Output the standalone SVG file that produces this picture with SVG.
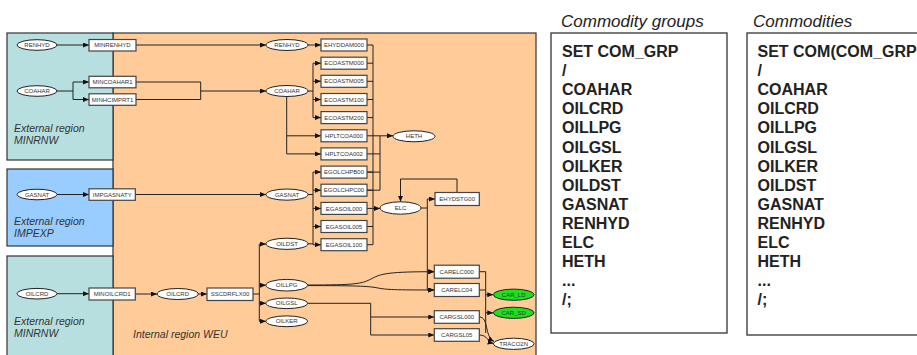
<svg xmlns="http://www.w3.org/2000/svg" width="917" height="355" viewBox="0 0 917 355">
<style>
.box{fill:#fff;stroke:#444;stroke-width:1.2}
.ell{fill:#fff;stroke:#222;stroke-width:1}
.grn{fill:#1fdf1f;stroke:#222;stroke-width:1}
.t{font-family:"Liberation Sans",Arial,sans-serif;font-size:6px;fill:#333;text-anchor:middle}
.reg{font-family:"Liberation Sans",Arial,sans-serif;font-size:10.5px;font-style:italic;fill:#333}
.hd{font-family:"Liberation Sans",Arial,sans-serif;font-size:17px;font-style:italic;fill:#222}
.ls{font-family:"Liberation Sans",Arial,sans-serif;font-size:16px;font-weight:bold;fill:#222}
.c{fill:none;stroke:#222;stroke-width:1}
.a{marker-end:url(#ah)}
</style>
<defs>
<marker id="ah" markerUnits="userSpaceOnUse" markerWidth="6" markerHeight="5" refX="6" refY="2.5" orient="auto"><path d="M0,0 L6,2.5 L0,5 z" fill="#111"/></marker>
</defs>
<rect width="917" height="355" fill="#fff"/>
<g id="regions">
<rect x="113" y="33" width="423" height="330" fill="#ffcc99" stroke="#333" stroke-width="1.2"/>
<rect x="7" y="33" width="106" height="127" fill="#b8dfe0" stroke="#333" stroke-width="1.2"/>
<rect x="7" y="169" width="106" height="77" fill="#99ccff" stroke="#333" stroke-width="1.2"/>
<rect x="7" y="256" width="106" height="107" fill="#b8dfe0" stroke="#333" stroke-width="1.2"/>
<text class="reg" x="14" y="131.5">External region</text>
<text class="reg" x="14" y="143.5">MINRNW</text>
<text class="reg" x="14" y="224.5">External region</text>
<text class="reg" x="14" y="236.5">IMPEXP</text>
<text class="reg" x="14" y="324.5">External region</text>
<text class="reg" x="14" y="336.5">MINRNW</text>
<text class="reg" x="133" y="337.5">Internal region WEU</text>
</g>
<g id="connectors">
<path class="c a" d="M57,45 H89"/>
<path class="c" d="M57,91 H73 M73,82 V99.5"/>
<path class="c a" d="M73,82 H89"/>
<path class="c a" d="M73,99.5 H89"/>
<path class="c a" d="M57,194.5 H89"/>
<path class="c a" d="M57,293.7 H89"/>
<path class="c a" d="M136,45 H266"/>
<path class="c" d="M136,82 H200.7 V99.5 H136"/>
<path class="c a" d="M200.7,91 H266"/>
<path class="c a" d="M135.3,194.5 H266"/>
<path class="c a" d="M135.3,294 H157"/>
<path class="c a" d="M198.3,294 H207"/>
<path class="c" d="M253,294 H259.3 M259.3,244 V321.3"/>
<path class="c a" d="M259.3,244 H266"/>
<path class="c a" d="M259.3,285.2 H266"/>
<path class="c a" d="M259.3,303.3 H266"/>
<path class="c a" d="M259.3,321.3 H266"/>
<path class="c a" d="M308,45 H321"/>
<path class="c" d="M308,91 H313 M313,63.2 V117.6"/>
<path class="c a" d="M313,63.2 H321"/>
<path class="c a" d="M313,81.3 H321"/>
<path class="c a" d="M313,99.5 H321"/>
<path class="c a" d="M313,117.6 H321"/>
<path class="c" d="M286.7,96.5 V153.9"/>
<path class="c a" d="M286.7,135.8 H321"/>
<path class="c a" d="M286.7,153.9 H321"/>
<path class="c" d="M307.7,194.5 H313 M313,172.1 V244.7 M307.7,243.8 H313"/>
<path class="c a" d="M313,172.1 H321"/>
<path class="c a" d="M313,190.2 H321"/>
<path class="c a" d="M313,208.4 H321"/>
<path class="c a" d="M313,226.5 H321"/>
<path class="c a" d="M313,244.7 H321"/>
<path class="c" d="M367,45 H373 M367,63.2 H373 M367,81.3 H373 M367,99.5 H373 M367,117.6 H373 M367,172.1 H373 M367,190.2 H373 M367,208.4 H373 M367,226.5 H373 M367,244.7 H373 M373,45 V244.7"/>
<path class="c a" d="M373,208.4 H380"/>
<path class="c" d="M367,153.9 H380 M367,172.1 H380 M367,190.2 H380 M380,135.8 V190.2" stroke-width="1.3"/>
<path class="c a" d="M367,135.8 H393"/>
<path class="c" d="M421,208 H427.3 M427.3,199 V290"/>
<path class="c a" d="M427.3,199 H435"/>
<path class="c a" d="M427.3,271.7 H434.3"/>
<path class="c a" d="M427.3,290 H434.3"/>
<path class="c a" d="M457,192.3 V179 H400.5 V201.8"/>
<path class="c a" d="M307.5,285 C355,285 362,284 372,278.5 C381,273.5 390,271.7 434.3,271.7"/>
<path class="c a" d="M307.5,285.6 C355,285.6 368,286 378,288 C386,289.6 395,290 434.3,290"/>
<path class="c" d="M307.3,303.3 H370.7 V335"/>
<path class="c a" d="M370.7,317 H434.3"/>
<path class="c a" d="M370.7,335 H434.3"/>
<path class="c" d="M479.3,271.7 H485.7 V333 M479.3,290 H485.7"/>
<path class="c a" d="M485.7,294.7 H493.3"/>
<path class="c a" d="M485.7,312.8 H493.3"/>
<path class="c a" d="M479.3,317 C489,317 484,336 494,341.5"/>
<path class="c a" d="M479.3,335 C488,335 487,342 493.6,343.5"/>
</g>
<g id="n-renhyd-ext"><ellipse class="ell" cx="37" cy="45" rx="20" ry="5.3"/><text class="t" x="37" y="47.1">RENHYD</text></g>
<g id="n-coahar-ext"><ellipse class="ell" cx="37" cy="91" rx="20" ry="5.3"/><text class="t" x="37" y="93.1">COAHAR</text></g>
<g id="n-gasnat-ext"><ellipse class="ell" cx="37" cy="194.5" rx="20" ry="5.3"/><text class="t" x="37" y="196.6">GASNAT</text></g>
<g id="n-oilcrd-ext"><ellipse class="ell" cx="37" cy="293.7" rx="20" ry="5.3"/><text class="t" x="37" y="295.8">OILCRD</text></g>
<g id="n-minrenhyd"><rect class="box" x="89" y="39.5" width="47" height="11.5"/><text class="t" x="112.5" y="47.3">MINRENHYD</text></g>
<g id="n-mincoahar1"><rect class="box" x="89" y="76.3" width="47" height="11.5"/><text class="t" x="112.5" y="84.1">MINCOAHAR1</text></g>
<g id="n-minhcimprt1"><rect class="box" x="89" y="93.8" width="47" height="11.5"/><text class="t" x="112.5" y="101.6">MINHCIMPRT1</text></g>
<g id="n-impgasnaty"><rect class="box" x="89" y="188.8" width="46.3" height="11.5"/><text class="t" x="112.2" y="196.6">IMPGASNATY</text></g>
<g id="n-minoilcrd1"><rect class="box" x="89" y="288" width="46.3" height="12"/><text class="t" x="112.2" y="296">MINOILCRD1</text></g>
<g id="n-oilcrd"><ellipse class="ell" cx="177.7" cy="294" rx="20.6" ry="5.5"/><text class="t" x="177.7" y="296.1">OILCRD</text></g>
<g id="n-sscdrflx00"><rect class="box" x="207" y="288" width="46" height="12.5"/><text class="t" x="230" y="296.3">SSCDRFLX00</text></g>
<g id="n-renhyd"><ellipse class="ell" cx="287" cy="45" rx="21" ry="5.5"/><text class="t" x="287" y="47.1">RENHYD</text></g>
<g id="n-coahar"><ellipse class="ell" cx="287" cy="91" rx="21" ry="5.5"/><text class="t" x="287" y="93.1">COAHAR</text></g>
<g id="n-gasnat"><ellipse class="ell" cx="287" cy="194.6" rx="21" ry="5.6"/><text class="t" x="287" y="196.7">GASNAT</text></g>
<g id="n-oildst"><ellipse class="ell" cx="287" cy="243.8" rx="21" ry="5.6"/><text class="t" x="287" y="245.9">OILDST</text></g>
<g id="n-oillpg"><ellipse class="ell" cx="286.7" cy="285.2" rx="20.8" ry="5.8"/><text class="t" x="286.7" y="287.3">OILLPG</text></g>
<g id="n-oilgsl"><ellipse class="ell" cx="286.7" cy="303.3" rx="20.8" ry="5.3"/><text class="t" x="286.7" y="305.4">OILGSL</text></g>
<g id="n-oilker"><ellipse class="ell" cx="286.7" cy="321.3" rx="20.8" ry="5.4"/><text class="t" x="286.7" y="323.4">OILKER</text></g>
<g id="n-ehyddam000"><rect class="box" x="321" y="39" width="46" height="12"/><text class="t" x="344" y="47.1">EHYDDAM000</text></g>
<g id="n-ecoastm000"><rect class="box" x="321" y="57.2" width="46" height="12"/><text class="t" x="344" y="65.3">ECOASTM000</text></g>
<g id="n-ecoastm005"><rect class="box" x="321" y="75.3" width="46" height="12"/><text class="t" x="344" y="83.4">ECOASTM005</text></g>
<g id="n-ecoastm100"><rect class="box" x="321" y="93.5" width="46" height="12"/><text class="t" x="344" y="101.6">ECOASTM100</text></g>
<g id="n-ecoastm200"><rect class="box" x="321" y="111.6" width="46" height="12"/><text class="t" x="344" y="119.7">ECOASTM200</text></g>
<g id="n-hpltcoa000"><rect class="box" x="321" y="129.8" width="46" height="12"/><text class="t" x="344" y="137.9">HPLTCOA000</text></g>
<g id="n-hpltcoa002"><rect class="box" x="321" y="147.9" width="46" height="12"/><text class="t" x="344" y="156">HPLTCOA002</text></g>
<g id="n-egolchpb00"><rect class="box" x="321" y="166.1" width="46" height="12"/><text class="t" x="344" y="174.2">EGOLCHPB00</text></g>
<g id="n-egolchpc00"><rect class="box" x="321" y="184.2" width="46" height="12"/><text class="t" x="344" y="192.3">EGOLCHPC00</text></g>
<g id="n-egasoil000"><rect class="box" x="321" y="202.4" width="46" height="12"/><text class="t" x="344" y="210.5">EGASOIL000</text></g>
<g id="n-egasoil005"><rect class="box" x="321" y="220.5" width="46" height="12"/><text class="t" x="344" y="228.6">EGASOIL005</text></g>
<g id="n-egasoil100"><rect class="box" x="321" y="238.7" width="46" height="12"/><text class="t" x="344" y="246.8">EGASOIL100</text></g>
<g id="n-heth"><ellipse class="ell" cx="414" cy="136.3" rx="21" ry="5.5"/><text class="t" x="414" y="138.4">HETH</text></g>
<g id="n-elc"><ellipse class="ell" cx="400.5" cy="208" rx="20.5" ry="6.2"/><text class="t" x="400.5" y="210.1">ELC</text></g>
<g id="n-ehydstg00"><rect class="box" x="435" y="192.5" width="44.3" height="13"/><text class="t" x="457.2" y="201.1">EHYDSTG00</text></g>
<g id="n-carelc000"><rect class="box" x="434.3" y="265.2" width="45" height="13"/><text class="t" x="456.8" y="273.8">CARELC000</text></g>
<g id="n-carelc04"><rect class="box" x="434.3" y="283.5" width="45" height="13"/><text class="t" x="456.8" y="292.1">CARELC04</text></g>
<g id="n-cargsl000"><rect class="box" x="434.3" y="310.7" width="45" height="12.6"/><text class="t" x="456.8" y="319.1">CARGSL000</text></g>
<g id="n-cargsl05"><rect class="box" x="434.3" y="328.7" width="45" height="12.6"/><text class="t" x="456.8" y="337.1">CARGSL05</text></g>
<g id="n-car-ld"><ellipse class="grn" cx="513.7" cy="294.7" rx="20.4" ry="5.6"/><text class="t" x="513.7" y="296.8">CAR_LD</text></g>
<g id="n-car-sd"><ellipse class="grn" cx="513.7" cy="312.8" rx="20.4" ry="5.6"/><text class="t" x="513.7" y="314.9">CAR_SD</text></g>
<g id="n-traco2n"><ellipse class="ell" cx="513.7" cy="343.8" rx="20.4" ry="5.6"/><text class="t" x="513.7" y="345.9">TRACO2N</text></g>
<g id="commodity-groups">
<text class="hd" x="561" y="26.5">Commodity groups</text>
<rect x="551" y="33" width="176" height="300" fill="#fff" stroke="#333" stroke-width="1.3"/>
<text class="ls" x="562" y="57">SET COM_GRP</text>
<text class="ls" x="562" y="76.1" font-weight="normal">/</text>
<text class="ls" x="562" y="95.2">COAHAR</text>
<text class="ls" x="562" y="114.3">OILCRD</text>
<text class="ls" x="562" y="133.4">OILLPG</text>
<text class="ls" x="562" y="152.5">OILGSL</text>
<text class="ls" x="562" y="171.6">OILKER</text>
<text class="ls" x="562" y="190.7">OILDST</text>
<text class="ls" x="562" y="209.8">GASNAT</text>
<text class="ls" x="562" y="228.9">RENHYD</text>
<text class="ls" x="562" y="248">ELC</text>
<text class="ls" x="562" y="267.1">HETH</text>
<text class="ls" x="562" y="286.2">...</text>
<text class="ls" x="562" y="305.3" font-weight="normal">/;</text>
</g>
<g id="commodities">
<text class="hd" x="753" y="26.5">Commodities</text>
<rect x="747" y="33" width="190" height="302" fill="#fff" stroke="#333" stroke-width="1.3"/>
<text class="ls" x="757.5" y="57">SET COM(COM_GRP</text>
<text class="ls" x="757.5" y="76.1" font-weight="normal">/</text>
<text class="ls" x="757.5" y="95.2">COAHAR</text>
<text class="ls" x="757.5" y="114.3">OILCRD</text>
<text class="ls" x="757.5" y="133.4">OILLPG</text>
<text class="ls" x="757.5" y="152.5">OILGSL</text>
<text class="ls" x="757.5" y="171.6">OILKER</text>
<text class="ls" x="757.5" y="190.7">OILDST</text>
<text class="ls" x="757.5" y="209.8">GASNAT</text>
<text class="ls" x="757.5" y="228.9">RENHYD</text>
<text class="ls" x="757.5" y="248">ELC</text>
<text class="ls" x="757.5" y="267.1">HETH</text>
<text class="ls" x="757.5" y="286.2">...</text>
<text class="ls" x="757.5" y="305.3" font-weight="normal">/;</text>
</g>
</svg>
